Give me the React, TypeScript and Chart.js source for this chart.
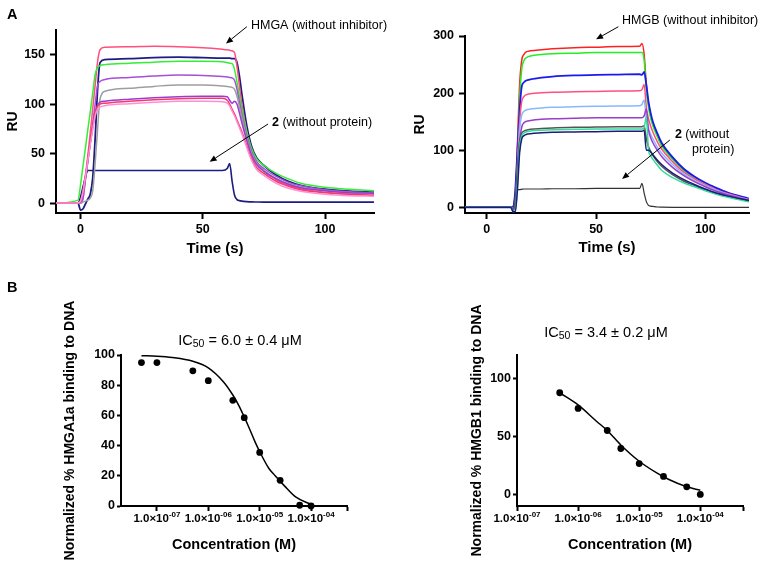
import React, { useEffect, useRef } from "react";
import { Chart, registerables } from "chart.js";

Chart.register(...registerables);

const FONT = "'Liberation Sans', Arial, Helvetica, sans-serif";
const PAGE_W = 761;
const PAGE_H = 566;

// ---------- Panel A (left): HMGA sensorgrams ----------
const hmgaTime = [-10, -1, 0, 1, 2, 3, 4, 5, 6, 7, 8, 10, 20, 30, 40, 50, 58, 60, 61, 62, 63, 64, 65, 66, 68, 70, 72, 75, 80, 85, 90, 100, 110, 120];
const hmgaPinkTop = [0, 0, 0, 5, 24, 48, 71, 95, 119, 143, 155, 157.5, 158, 158.5, 158, 157, 155.5, 155, 154.5, 154, 152, 138, 118, 100, 72, 53, 42, 33, 23.5, 18, 14.5, 11, 9, 8];
const hmgaNavyTop = [0, 0, -7, -6, -1, 4, 9, 25, 65, 115, 142, 145, 146, 147, 147.5, 147, 146.5, 146.5, 146.5, 146, 146, 142, 128, 110, 78, 57, 46, 38, 28.5, 22, 18, 14, 12, 11];
const hmgaGreen = [0, 3, 18, 37, 55, 74, 92, 111, 130, 137, 139, 140, 141.5, 142.5, 143.5, 143.5, 143, 142, 141.5, 141, 135, 122, 108, 95, 72, 55, 45, 38, 30, 24.5, 20, 16, 14, 12.5];
const hmgaPurple = [0, 0, 0, 4, 23, 42, 61, 80, 100, 119, 123, 125, 127, 128.5, 129.5, 129, 128, 127.5, 127, 126.5, 124, 115, 102, 90, 68, 52, 42, 35, 27, 21, 17.5, 13.5, 11.5, 10.5];
const hmgaGray = [0, 0, 0, 1, 2, 3, 5, 12, 40, 75, 105, 113, 116, 118, 119.5, 119.5, 118.5, 118, 117.5, 117, 115, 108, 97, 86, 65, 50, 40, 33, 25, 19.5, 16, 12.5, 10.5, 9.5];
const hmgaPurple2 = [0, 0, 1, 10, 25, 42, 60, 76, 90, 99, 102, 103, 105, 106.5, 107.5, 108, 108, 107.5, 104, 101, 103, 100, 91, 81, 63, 48, 39, 32, 24.5, 19, 15.5, 12.5, 10.5, 10];
const hmgaRedPink = [0, 0, 2, 12, 28, 45, 62, 78, 92, 98, 100, 101, 103, 104.5, 105.5, 106, 106, 104, 100, 95, 90, 84, 78, 72, 58, 45, 36, 30, 22, 17, 13.5, 10.5, 9, 8];
const hmgaLightPink = [0, 0, 2, 11, 26, 43, 59, 74, 88, 95, 97, 98.5, 100.5, 102, 103, 103, 102.5, 101, 98, 93, 88, 82, 76, 70, 56, 43, 34, 28, 20, 15, 12, 9, 7.5, 7];
const hmgaCompound2 = [0, 0, 6, 16, 26, 33, 33, 33, 33, 33, 33, 33, 33, 33, 33, 33, 33, 35, 40, 22, 8, 3.5, 2.5, 2, 1.5, 1.2, 1.1, 1, 1, 1, 1, 1, 1, 1];

// ---------- Panel A (right): HMGB sensorgrams ----------
const hmgbTime = [-10, 10, 11, 12, 13, 14, 15, 16, 17, 18, 20, 25, 30, 40, 50, 60, 70, 71, 72, 73, 74, 75, 76, 78, 80, 85, 90, 95, 100, 105, 110, 120];
const hmgbRed = [0, 0, 0, -3, 10, 110, 215, 258, 268, 272, 274, 276, 277.5, 279.5, 280.5, 281.5, 282, 287, 268, 215, 180, 160, 146, 127, 111, 86, 67, 53, 42, 33, 25, 14.5];
const hmgbGreen = [0, 0, 0, -4, 5, 90, 190, 243, 257, 262, 265, 267.5, 269, 270, 271, 271, 271, 271, 258, 205, 175, 156, 143, 124, 108, 84, 65, 52, 41, 32, 24.5, 14];
const hmgbBlue = [0, 0, 0, -6, 30, 100, 170, 212, 219, 222, 224, 227, 229, 231, 232, 232.5, 233, 232, 237, 215, 185, 165, 150, 130, 113, 88, 68, 54, 43, 34, 26, 15];
const hmgbPink = [0, 0, 0, -4, 5, 75, 150, 186, 194, 197, 199, 200.5, 201.5, 202.5, 203, 203.5, 204, 206, 215, 175, 155, 142, 132, 115, 102, 80, 62, 50, 40, 31, 24, 13.5];
const hmgbLightBlue = [0, 0, 0, -6, 4, 65, 135, 162, 168, 170.5, 172, 174, 175, 176, 177, 177.5, 178, 180, 188, 155, 138, 128, 120, 106, 95, 75, 59, 47, 38, 30, 23, 13];
const hmgbPurple = [0, 0, 0, -5, 4, 55, 115, 141, 148, 150.5, 152, 154, 155, 156, 157, 157, 157, 157, 160, 172, 135, 122, 113, 100, 89, 70, 56, 45, 36, 28, 22, 12.5];
const hmgbDarkGray = [0, 0, 0, -3, 15, 70, 115, 130, 133.5, 135, 136.5, 138, 139, 140, 140.5, 141, 141, 141, 143, 120, 106, 98, 91, 80, 72, 57, 46, 38, 30, 24, 19, 11];
const hmgbTeal = [0, 0, 0, -8, -6, 40, 105, 125, 130, 132, 133.5, 135, 136, 136.5, 137, 137, 137, 137, 140, 158, 100, 90, 84, 74, 65, 52, 43, 36, 29, 23, 18, 9.5];
const hmgbNavy = [0, 0, 0, -8, -8, 30, 95, 120, 125.5, 127.5, 129, 130.5, 131.5, 132, 132.5, 133, 133, 133, 135, 100, 100, 97, 92, 83, 75, 60, 49, 40, 32, 25, 20, 12];
const hmgbCompound2 = [0, 0, 0, 2, 22, 30.5, 31, 31.5, 32, 32, 32, 32, 32.5, 32.5, 33, 33, 33, 42, 25, 10, 3.5, 2, 1.5, 0.5, 0.2, 0, 0, 0, 0, 0, 0, 0];

// ---------- Panel B (left): HMGA1a dose response ----------
const hmga1aConc = [5e-8, 1e-7, 5e-7, 1e-6, 3e-6, 5e-6, 1e-5, 2.5e-5, 6e-5, 1e-4];
const hmga1aBinding = [95, 95, 89.5, 83, 70, 58.5, 35.5, 17, 0.5, 0];
const hmga1aFitConc = [5e-8, 1e-7, 2e-7, 5e-7, 1e-6, 2e-6, 3e-6, 4e-6, 5e-6, 6e-6, 8e-6, 1e-5, 1.5e-5, 2e-5, 3e-5, 5e-5, 1e-4];
const hmga1aFitBinding = [99.5, 99.2, 98.3, 95.8, 91.5, 82, 73.5, 66, 59, 53, 43, 36, 25, 20, 13.5, 6, 1];

// ---------- Panel B (right): HMGB1 dose response ----------
const hmgb1Conc = [5e-7, 1e-6, 3e-6, 5e-6, 1e-5, 2.5e-5, 6e-5, 1e-4];
const hmgb1Binding = [87.5, 74, 55, 39.5, 26.5, 15.5, 6.5, 0];
const hmgb1FitConc = [5e-7, 1e-6, 2e-6, 3e-6, 5e-6, 1e-5, 2e-5, 3e-5, 6e-5, 1e-4];
const hmgb1FitBinding = [87.5, 77, 63, 55, 42.5, 28.5, 18, 13, 6.5, 3.5];

// ---------- Tick values ----------
const timeTicks = [0, 50, 100];
const hmgaRUTicks = [0, 50, 100, 150];
const hmgbRUTicks = [0, 100, 200, 300];
const hmga1aPctTicks = [0, 20, 40, 60, 80, 100];
const hmgb1PctTicks = [0, 50, 100];
const concDecades = [1e-7, 1e-6, 1e-5, 1e-4];

type Part = { text: string; size: number; bold?: boolean; dy?: number };

function drawParts(ctx: any, parts: Part[], x: number, y: number, align: string) {
  const widths = parts.map((p) => {
    ctx.font = `${p.bold ? "bold " : ""}${p.size}px ${FONT}`;
    return ctx.measureText(p.text).width;
  });
  const total = widths.reduce((a, b) => a + b, 0);
  let px = align === "center" ? x - total / 2 : align === "right" ? x - total : x;
  ctx.textBaseline = "middle";
  ctx.textAlign = "left";
  parts.forEach((p, i) => {
    ctx.font = `${p.bold ? "bold " : ""}${p.size}px ${FONT}`;
    ctx.fillText(p.text, px, y + (p.dy || 0));
    px += widths[i];
  });
}

function makeAnnotPlugin(spec: any) {
  return {
    id: "annot",
    afterDraw(chart: any) {
      const { ctx } = chart;
      const xs = chart.scales.x;
      const ys = chart.scales.y;
      ctx.save();
      ctx.fillStyle = "#000";
      ctx.strokeStyle = "#000";
      for (const a of spec.arrows || []) {
        const x1 = xs.getPixelForValue(a.from[0]);
        const y1 = ys.getPixelForValue(a.from[1]);
        const x2 = xs.getPixelForValue(a.to[0]);
        const y2 = ys.getPixelForValue(a.to[1]);
        const ang = Math.atan2(y2 - y1, x2 - x1);
        const hl = 7;
        const hw = 3;
        const bx = x2 - hl * Math.cos(ang);
        const by = y2 - hl * Math.sin(ang);
        ctx.lineWidth = 1;
        ctx.beginPath();
        ctx.moveTo(x1, y1);
        ctx.lineTo(bx, by);
        ctx.stroke();
        ctx.beginPath();
        ctx.moveTo(x2, y2);
        ctx.lineTo(bx + hw * Math.sin(ang), by - hw * Math.cos(ang));
        ctx.lineTo(bx - hw * Math.sin(ang), by + hw * Math.cos(ang));
        ctx.closePath();
        ctx.fill();
      }
      for (const t of spec.texts || []) {
        drawParts(ctx, t.parts, xs.getPixelForValue(t.at[0]), ys.getPixelForValue(t.at[1]), t.align || "left");
      }
      if (spec.sciTicks) {
        const y = chart.chartArea.bottom + spec.sciTicks.offset;
        for (const v of spec.sciTicks.values) {
          const e = Math.round(Math.log10(v));
          const exp = (e < 0 ? "-" : "") + String(Math.abs(e)).padStart(2, "0");
          drawParts(
            ctx,
            [
              { text: "1.0×10", size: 11.5, bold: true },
              { text: exp, size: 8, bold: true, dy: -4 },
            ],
            xs.getPixelForValue(v),
            y,
            "center"
          );
        }
      }
      ctx.restore();
    },
  };
}

function buildLayout(area: any, yTitleX: number, ySize: number, xTitleY: number, xSize: number) {
  const left = yTitleX - (ySize * 1.2) / 2;
  const boxBottom = xTitleY + (xSize * 1.2) / 2;
  return {
    padding: { left, top: area.t, right: PAGE_W - area.r, bottom: PAGE_H - boxBottom },
    yWidth: area.l - left,
    xHeight: boxBottom - area.b,
  };
}

function axis(o: any) {
  return {
    type: o.type,
    position: o.position,
    min: o.min,
    max: o.max,
    bounds: "data",
    afterBuildTicks: (s: any) => {
      s.ticks = o.ticks.map((v: number) => ({ value: v }));
    },
    afterFit: (s: any) => {
      if (o.position === "bottom") s.height = o.size;
      else s.width = o.size;
      s.paddingLeft = 0;
      s.paddingRight = 0;
      s.paddingTop = 0;
      s.paddingBottom = 0;
    },
    border: { display: true, color: "#000", width: 2 },
    grid: { display: true, drawOnChartArea: false, drawTicks: true, tickLength: o.tickLength, tickColor: "#000", tickWidth: 2 },
    ticks: {
      display: o.showLabels !== false,
      color: "#000",
      padding: o.tickPad,
      autoSkip: false,
      maxRotation: 0,
      callback: (v: any) => String(v),
      font: { family: FONT, size: o.fontSize, weight: "bold" },
    },
    title: { display: true, text: o.title, color: "#000", padding: 0, font: { family: FONT, size: o.titleSize, weight: "bold" } },
  };
}

function sensorgramConfig(p: any) {
  const L = buildLayout(p.area, p.yTitleX, 14, p.xTitleY, 15);
  return {
    type: "line",
    data: {
      datasets: p.series.map((s: any) => ({
        data: p.time.map((t: number, i: number) => ({ x: t, y: s.values[i] })),
        borderColor: s.color,
        borderWidth: s.width || 1.5,
        pointRadius: 0,
        fill: false,
        cubicInterpolationMode: "monotone",
      })),
    },
    options: {
      animation: false,
      responsive: false,
      devicePixelRatio: 1,
      events: [],
      layout: { autoPadding: false, padding: L.padding },
      plugins: { legend: { display: false }, tooltip: { enabled: false }, title: { display: false } },
      scales: {
        x: axis({ type: "linear", position: "bottom", min: -10, max: 120, ticks: timeTicks, size: L.xHeight, tickLength: 6, tickPad: 3, fontSize: 12.5, title: "Time (s)", titleSize: 15 }),
        y: axis({ type: "linear", position: "left", min: p.yMin, max: p.yMax, ticks: p.yTicks, size: L.yWidth, tickLength: 6, tickPad: 5, fontSize: 12.5, title: "RU", titleSize: 14 }),
      },
    },
    plugins: [makeAnnotPlugin(p.annot)],
  };
}

function doseConfig(p: any) {
  const L = buildLayout(p.area, p.yTitleX, 14, 545, 14.5);
  return {
    type: "line",
    data: {
      datasets: [
        {
          data: p.fitConc.map((c: number, i: number) => ({ x: c, y: p.fitValues[i] })),
          borderColor: "#000",
          borderWidth: 1.5,
          pointRadius: 0,
          fill: false,
          cubicInterpolationMode: "monotone",
          clip: false,
        },
        {
          data: p.conc.map((c: number, i: number) => ({ x: c, y: p.values[i] })),
          showLine: false,
          pointRadius: 3.4,
          pointBackgroundColor: "#000",
          pointBorderWidth: 0,
          borderColor: "#000",
          clip: false,
        },
      ],
    },
    options: {
      animation: false,
      responsive: false,
      devicePixelRatio: 1,
      events: [],
      layout: { autoPadding: false, padding: L.padding },
      plugins: { legend: { display: false }, tooltip: { enabled: false }, title: { display: false } },
      scales: {
        x: axis({ type: "logarithmic", position: "bottom", min: p.xMin, max: p.xMax, ticks: [...concDecades, p.xMax], size: L.xHeight, tickLength: 5, tickPad: 3, fontSize: 11, showLabels: false, title: "Concentration (M)", titleSize: 14.5 }),
        y: axis({ type: "linear", position: "left", min: p.yMin, max: p.yMax, ticks: p.yTicks, size: L.yWidth, tickLength: 4, tickPad: 2, fontSize: 12.5, title: p.yTitle, titleSize: 14 }),
      },
    },
    plugins: [makeAnnotPlugin(p.annot)],
  };
}

const configs: any[] = [
  sensorgramConfig({
    area: { l: 56, t: 30, r: 374, b: 213 },
    yTitleX: 13,
    xTitleY: 249,
    time: hmgaTime,
    yMin: -10,
    yMax: 175,
    yTicks: hmgaRUTicks,
    series: [
      { values: hmgaLightPink, color: "#ff8fd6" },
      { values: hmgaRedPink, color: "#f53a68" },
      { values: hmgaPurple2, color: "#9b3bd0" },
      { values: hmgaGray, color: "#9e9e9e" },
      { values: hmgaPurple, color: "#a64fd8" },
      { values: hmgaGreen, color: "#33ee33" },
      { values: hmgaPinkTop, color: "#ff4f7e" },
      { values: hmgaNavyTop, color: "#1c1c82", width: 1.8 },
      { values: hmgaCompound2, color: "#1c1c82", width: 1.6 },
    ],
    annot: {
      arrows: [
        { from: [68, 178.3], to: [59.5, 161.4] },
        { from: [76.7, 80], to: [52.8, 41.8] },
      ],
      texts: [
        { at: [69.7, 180], parts: [{ text: "HMGA (without inhibitor)", size: 12.5 }] },
        { at: [78.3, 81], parts: [{ text: "2", size: 12.5, bold: true }, { text: " (without protein)", size: 12.5 }] },
      ],
    },
  }),
  sensorgramConfig({
    area: { l: 465, t: 36, r: 749, b: 213 },
    yTitleX: 420.5,
    xTitleY: 248,
    time: hmgbTime,
    yMin: -10,
    yMax: 300,
    yTicks: hmgbRUTicks,
    series: [
      { values: hmgbNavy, color: "#1c1c7c" },
      { values: hmgbTeal, color: "#33dd99" },
      { values: hmgbDarkGray, color: "#555555" },
      { values: hmgbPurple, color: "#9a3ccc" },
      { values: hmgbLightBlue, color: "#88b8ff" },
      { values: hmgbPink, color: "#ff4f80" },
      { values: hmgbBlue, color: "#1a1aee", width: 1.8 },
      { values: hmgbGreen, color: "#22ee22" },
      { values: hmgbRed, color: "#ff2020" },
      { values: hmgbCompound2, color: "#333333", width: 1.2 },
    ],
    annot: {
      arrows: [
        { from: [60.2, 316.3], to: [50, 294.2] },
        { from: [83.8, 117.9], to: [61.9, 49.6] },
      ],
      texts: [
        { at: [61.9, 326.3], parts: [{ text: "HMGB (without inhibitor)", size: 12.5 }] },
        { at: [86.1, 126.6], parts: [{ text: "2", size: 12.5, bold: true }, { text: " (without", size: 12.5 }] },
        { at: [93.9, 100.3], parts: [{ text: "protein)", size: 12.5 }] },
      ],
    },
  }),
  doseConfig({
    area: { l: 121, t: 355, r: 347, b: 506 },
    yTitleX: 70,
    xMin: 2e-8,
    xMax: 5e-4,
    yMin: 0,
    yMax: 100,
    yTicks: hmga1aPctTicks,
    yTitle: "Normalized % HMGA1a binding to DNA",
    conc: hmga1aConc,
    values: hmga1aBinding,
    fitConc: hmga1aFitConc,
    fitValues: hmga1aFitBinding,
    annot: {
      texts: [
        {
          at: [4.14e-6, 109.5],
          align: "center",
          parts: [
            { text: "IC", size: 14.5 },
            { text: "50", size: 10.5, dy: 3 },
            { text: " = 6.0 ± 0.4 μM", size: 14.5 },
          ],
        },
      ],
      sciTicks: { values: concDecades, offset: 13 },
    },
  }),
  doseConfig({
    area: { l: 517, t: 355, r: 743, b: 506 },
    yTitleX: 477,
    xMin: 1e-7,
    xMax: 5e-4,
    yMin: -10,
    yMax: 120,
    yTicks: hmgb1PctTicks,
    yTitle: "Normalized % HMGB1 binding to DNA",
    conc: hmgb1Conc,
    values: hmgb1Binding,
    fitConc: hmgb1FitConc,
    fitValues: hmgb1FitBinding,
    annot: {
      texts: [
        {
          at: [2.86e-6, 139.2],
          align: "center",
          parts: [
            { text: "IC", size: 14.5 },
            { text: "50", size: 10.5, dy: 3 },
            { text: " = 3.4 ± 0.2 μM", size: 14.5 },
          ],
        },
      ],
      sciTicks: { values: concDecades, offset: 13 },
    },
  }),
];

function ChartLayer({ config }: { config: any }) {
  const ref = useRef<HTMLCanvasElement>(null);
  useEffect(() => {
    const chart = new Chart(ref.current as HTMLCanvasElement, config);
    return () => chart.destroy();
  }, [config]);
  return (
    <canvas
      ref={ref}
      width={PAGE_W}
      height={PAGE_H}
      style={{ position: "absolute", left: 0, top: 0, width: PAGE_W, height: PAGE_H }}
    />
  );
}

const letterStyle = (top: number): React.CSSProperties => ({
  position: "absolute",
  left: 7,
  top,
  fontFamily: FONT,
  fontWeight: "bold",
  fontSize: 14.5,
  lineHeight: "14.5px",
  color: "#000",
});

export default function App() {
  return (
    <div
      style={{
        position: "fixed",
        left: 0,
        top: 0,
        width: PAGE_W,
        height: PAGE_H,
        background: "#fff",
        overflow: "hidden",
      }}
    >
      {configs.map((c, i) => (
        <ChartLayer key={i} config={c} />
      ))}
      <div style={letterStyle(7.4)}>A</div>
      <div style={letterStyle(279.8)}>B</div>
    </div>
  );
}
